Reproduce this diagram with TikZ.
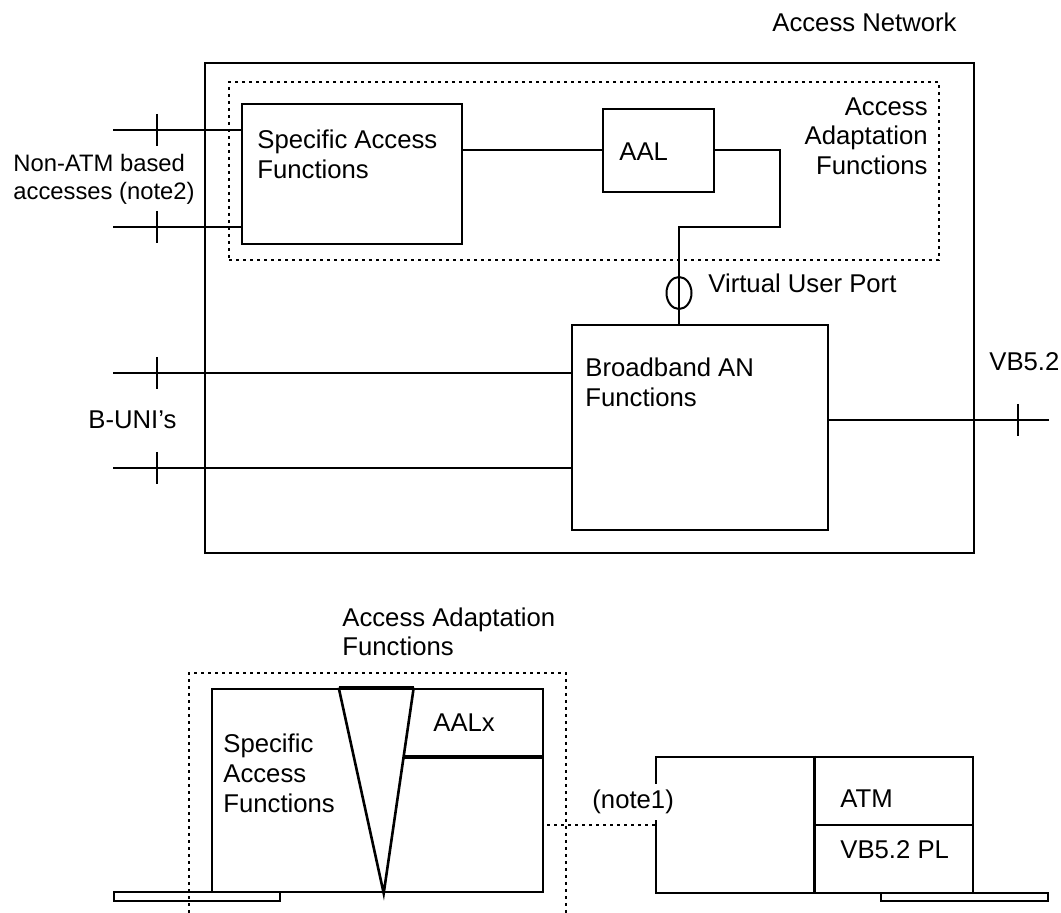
\documentclass[tikz,border=0pt]{standalone}
\usepackage{fontspec}
\setmainfont{Liberation Sans}
\usetikzlibrary{calc,shapes.geometric,positioning}

\begin{document}
\begin{tikzpicture}[x=0.5pt, y=-0.5pt, every node/.style={font=\fontsize{12.85}{14.75}\selectfont}]
    \tikzset{BoxStyle/.style = {draw, line width=1pt, inner sep=0pt},
      DotStyle/.style = {line width=1pt, dash pattern=on 1.5pt off 2pt},
      ThickStyle/.style = {line width=1.3pt},
      TextStyle/.style = {inner sep=0pt, align=left, anchor=base west}}
    \useasboundingbox (0,0) rectangle (1061,913);
    \node[TextStyle, anchor=base east] (net) at (957,32) {Access Network};
    \node[BoxStyle, minimum width=384.5pt, minimum height=245pt] (an) at (589.5,308) {};
    \node[BoxStyle, DotStyle, minimum width=355pt, minimum height=89pt] (aaf) at (584,171) {};
    \node[BoxStyle, minimum width=110pt, minimum height=70pt] (saf) at (352,174) {};
    \node[BoxStyle, minimum width=55.5pt, minimum height=41.5pt] (aal) at (658.5,150.5) {};
    \node[BoxStyle, minimum width=128pt, minimum height=102.5pt] (ban) at (700,427.5) {};
    \node[BoxStyle, ellipse, minimum width=12.5pt, minimum height=16pt] (vup) at (679,293) {};
    \node[TextStyle] (saftxt) at (257,178.5) {Specific Access\\Functions};
    \node[TextStyle] (aaltxt) at (619,161) {AAL};
    \node[TextStyle, anchor=base east, align=right] (aaftxt) at (928,174.5) {Access\\Adaptation\\Functions};
    \node[TextStyle] (vuptxt) at (708,293) {Virtual User Port};
    \node[TextStyle] (bantxt) at (585,406.5) {Broadband AN\\Functions};
    \node[TextStyle, font=\fontsize{11.9}{14}\selectfont] (natxt) at (13,200) {Non-ATM based\\accesses (note2)};
    \node[TextStyle] (butxt) at (88,429) {B-UNI’s};
    \node[TextStyle] (vbtxt) at (989,371) {VB5.2};
    \coordinate (bend) at (780,227);
    \coordinate (na1) at (113,130);
    \coordinate (na2) at (113,227);
    \coordinate (bu1) at (113,373);
    \coordinate (bu2) at (113,468);
    \coordinate (vb) at (1049,420);
    \draw[line width=1pt] (aal.west) -- (aal.west -| saf.east);
    \draw[line width=1pt] (aal.east) -| (bend) -| (vup.center |- ban.north);
    \draw[line width=1pt] (na1) -- (na1 -| saf.west);
    \draw[line width=1pt] (na2) -- (na2 -| saf.west);
    \draw[line width=1pt] (bu1) -- (bu1 -| ban.west);
    \draw[line width=1pt] (bu2) -- (bu2 -| ban.west);
    \draw[line width=1pt] (vb) -- (vb -| ban.east);
    \draw[line width=1pt] ($(na1)+(44,-16)$) -- ++(0,32);
    \draw[line width=1pt] ($(na2)+(44,-16)$) -- ++(0,32);
    \draw[line width=1pt] ($(bu1)+(44,-16)$) -- ++(0,32);
    \draw[line width=1pt] ($(bu2)+(44,-16)$) -- ++(0,32);
    \draw[line width=1pt] ($(vb)+(-31,-16)$) -- ++(0,32);

    \node[TextStyle] (aaf2txt) at (342,656) {Access Adaptation\\Functions};
    \coordinate (fl) at (189,913);
    \coordinate (ft) at (189,673);
    \coordinate (fr) at (566,913);
    \draw[DotStyle] (fl) -- (ft) -| (fr);
    \node[BoxStyle, ThickStyle, minimum width=165.5pt, minimum height=101.5pt] (saf2) at (377.5,790.5) {};
    \coordinate (tl) at ($(saf2.north west)+(128,0)$);
    \coordinate (tr) at ($(saf2.north west)+(203,0)$);
    \coordinate (tb) at ($(saf2.south west)+(173,0)$);
    \coordinate (dv) at ($(tr)!0.335!(tb)$);
    \draw[ThickStyle] (tl) -- (tb) -- (tr);
    \draw[line width=2pt] (tl) -- (tr);
    \draw[line width=2pt] (dv) -- (dv -| saf2.east);
    \node[TextStyle] (aalxtxt) at (433,732) {AALx};
    \node[TextStyle, font=\fontsize{12.85}{15}\selectfont] (saf2txt) at (223,813) {Specific\\Access\\Functions};
    \node[BoxStyle, minimum width=83pt, minimum height=4.5pt] (pl) at (197,896.5) {};
    \node[BoxStyle, ThickStyle, minimum width=158.5pt, minimum height=68pt] (rb) at (814.5,825) {};
    \node[BoxStyle, minimum width=83.5pt, minimum height=4pt] (pr) at (964.5,897) {};
    \draw[ThickStyle] (rb.north) -- (rb.south);
    \draw[ThickStyle] (rb.center) -- (rb.east);
    \draw[DotStyle] (rb.west) -- (rb.west -| saf2.east);
    \node[TextStyle, fill=white, inner sep=3pt] (n1txt) at (586,809) {(note1)};
    \node[TextStyle] (atmtxt) at (840,808) {ATM};
    \node[TextStyle] (pltxt) at (840,859) {VB5.2 PL};
\end{tikzpicture}
\end{document}
